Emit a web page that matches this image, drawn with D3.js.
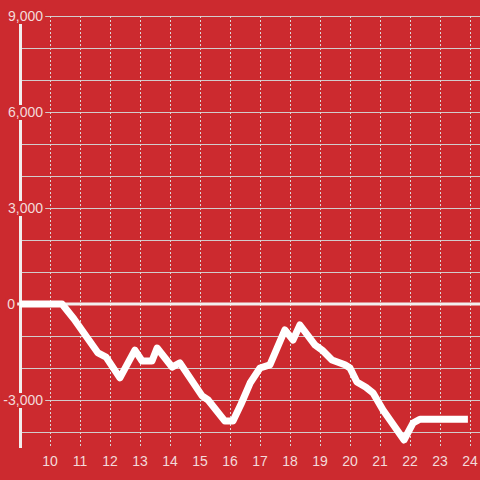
<!DOCTYPE html>
<html><head><meta charset="utf-8">
<script src="https://cdn.jsdelivr.net/npm/d3@7"></script>
<style>html,body{margin:0;padding:0;background:#cc2a2f;}svg{display:block;}</style>
</head><body>
<script>
const hours = [9.0,10.4,10.8,11.6,11.87,12.33,12.83,13.07,13.4,13.57,14.07,14.33,15.07,15.27,15.83,16.1,16.37,16.67,17.0,17.33,17.83,18.1,18.33,18.83,19.07,19.4,19.83,20.0,20.23,20.53,20.77,21.1,21.8,22.1,22.33,23.93];
const values = [0,0,-470,-1530,-1660,-2310,-1440,-1780,-1780,-1375,-1970,-1840,-2870,-3000,-3660,-3660,-3125,-2470,-2000,-1900,-810,-1125,-656,-1280,-1440,-1750,-1900,-2000,-2440,-2600,-2780,-3310,-4250,-3720,-3600,-3600];
const xTicks = [10,11,12,13,14,15,16,17,18,19,20,21,22,23,24];
const yGrid = [-4000,-3000,-2000,-1000,0,1000,2000,3000,4000,5000,6000,7000,8000,9000];
const yLabels = [9000,6000,3000,0,-3000];

const W=480,H=480;
const svg=d3.select("body").append("svg").attr("width",W).attr("height",H);
svg.append("rect").attr("width",W).attr("height",H).attr("fill","#cc2a2f");
const x=d3.scaleLinear().domain([9,24]).range([20,470]);
const y=d3.scaleLinear().domain([-4000,9000]).range([432,16]);
const font="'Liberation Sans', Arial, sans-serif";

// horizontal grid
svg.append("g").selectAll("line").data(yGrid.filter(d=>d!==0)).join("line")
  .attr("x1",20).attr("x2",W).attr("y1",d=>y(d)+0.5).attr("y2",d=>y(d)+0.5)
  .attr("stroke","#d2cccc").attr("stroke-width",1);
// vertical dotted grid
svg.append("g").selectAll("line").data(xTicks).join("line")
  .attr("x1",d=>x(d)+0.5).attr("x2",d=>x(d)+0.5).attr("y1",16).attr("y2",448)
  .attr("stroke","#ddd6d6").attr("stroke-width",1).attr("stroke-dasharray","2,2");
// zero line
svg.append("line").attr("x1",17).attr("x2",W).attr("y1",y(0)).attr("y2",y(0))
  .attr("stroke","#f2eeee").attr("stroke-width",3);
// y axis line
svg.append("line").attr("x1",20.5).attr("x2",20.5).attr("y1",16).attr("y2",448)
  .attr("stroke","#f2eeee").attr("stroke-width",3);

// y labels with red background
const fmt=d3.format(",");
const yl=svg.append("g");
yLabels.forEach(v=>{
  const g=yl.append("g");
  const ax = v===0 ? 15 : 43;
  const t=g.append("text").attr("x",ax).attr("y",y(v)).attr("dy","0.36em")
    .attr("text-anchor","end").attr("font-family",font).attr("font-size",14)
    .attr("fill","#f3dada").text(fmt(v).replace("−","-"));
  const b=t.node().getBBox();
  g.insert("rect","text").attr("x",b.x-2).attr("y",y(v)-7).attr("width",b.width+4).attr("height",15)
    .attr("fill","#cc2a2f");
});

// x labels
svg.append("g").selectAll("text").data(xTicks).join("text")
  .attr("x",d=>x(d)).attr("y",466).attr("text-anchor","middle")
  .attr("font-family",font).attr("font-size",14).attr("fill","#f3dada").text(d=>d);

// data line
const line=d3.line().x((d,i)=>x(hours[i])).y(d=>y(d));
svg.append("path").attr("d",line(values)).attr("fill","none")
  .attr("stroke","#ffffff").attr("stroke-width",7).attr("stroke-linejoin","round");
</script>
</body></html>
